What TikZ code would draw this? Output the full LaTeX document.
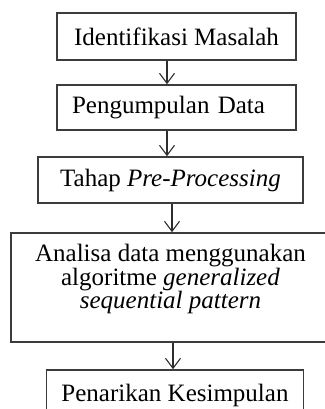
\documentclass[tikz,border=0pt]{standalone}
\usepackage{fontspec}
\setmainfont{Liberation Serif}
\usetikzlibrary{arrows.meta,positioning}
\definecolor{Frame}{HTML}{3C3C3C}
\definecolor{Wire}{HTML}{2E2E2E}
\tikzset{
  stage/.style={draw=Frame, line width=1.6pt, fill=white, align=center, inner sep=0pt, font=\fontsize{25}{23.5}\selectfont},
  arrow/.style={-{Straight Barb[length=10pt, width=15pt]}, line width=1.1pt, draw=Wire}
}

\begin{document}
\begin{tikzpicture}[x=1pt, y=1pt]
\useasboundingbox (0,0) rectangle (324,409);
\node[stage, minimum width=239pt, minimum height=47pt] (s1) at (176.5,372.5) {Identifikasi Masalah};
\node[stage, below=23.4pt of s1, minimum width=239pt, minimum height=45pt, align=left, text width=209pt, inner xsep=15pt] (s2) {Pengumpulan Data};
\node[stage, below=25.4pt of s2, xshift=-6pt, minimum width=265pt, minimum height=46pt] (s3) {Tahap \textit{Pre-Processing}};
% text sits high in the tall box
\node[stage, below=28.4pt of s3, minimum width=319pt, text height=76pt, text depth=33pt] (s4) {Analisa data menggunakan\\ algoritme \textit{generalized}\\ \textit{sequential pattern}};
\node[stage, below=26.4pt of s4, xshift=4.5pt, minimum width=257pt, text height=32pt, text depth=14pt] (s5) {Penarikan Kesimpulan};
\foreach \a/\b/\x in {s1/s2/167, s2/s3/167, s3/s4/172, s4/s5/173} {
  \coordinate (ax) at (\x,0);
  \draw[arrow] (\a.south -| ax) -- (\b.north -| ax);
}
\end{tikzpicture}
\end{document}
